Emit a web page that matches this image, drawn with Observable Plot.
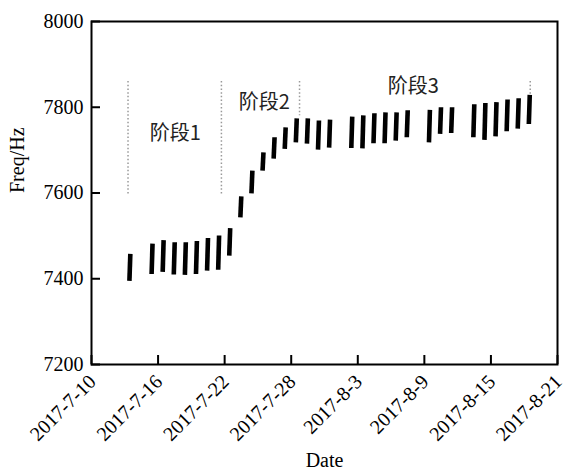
<!DOCTYPE html>
<html>
<head>
<meta charset="utf-8">
<script src="https://cdn.jsdelivr.net/npm/d3@7"></script>
<script src="https://cdn.jsdelivr.net/npm/@observablehq/plot@0.6"></script>
<style>
  html, body { margin: 0; padding: 0; background: #fff; }
  #chart svg { display: block; }
</style>
</head>
<body>
<div id="chart"></div>
<script>
// Daily measurement bursts: date, lowest and highest frequency (Hz)
const days  = ["2017-07-13","2017-07-15","2017-07-16","2017-07-17","2017-07-18","2017-07-19","2017-07-20","2017-07-21",
               "2017-07-22","2017-07-23","2017-07-24","2017-07-25","2017-07-26","2017-07-27","2017-07-28","2017-07-29",
               "2017-07-30","2017-07-31","2017-08-02","2017-08-03","2017-08-04","2017-08-05","2017-08-06","2017-08-07",
               "2017-08-09","2017-08-10","2017-08-11","2017-08-13","2017-08-14","2017-08-15","2017-08-16","2017-08-17","2017-08-18"];
const lows  = [7395,7411,7416,7410,7409,7411,7419,7421,
               7454,7543,7599,7652,7680,7703,7718,7715,
               7701,7706,7705,7704,7716,7716,7722,7730,
               7718,7738,7740,7730,7724,7732,7744,7750,7761];
const highs = [7458,7482,7490,7485,7485,7488,7495,7501,
               7518,7592,7652,7695,7730,7753,7774,7774,
               7769,7771,7778,7781,7786,7788,7788,7793,
               7794,7800,7800,7807,7810,7812,7818,7821,7829];

// Stage dividers (dotted lines)
const dividerTimes = ["2017-07-13T07:00","2017-07-21T17:00","2017-07-28T18:00","2017-08-18T13:00"];
const dividerTop   = [7860,7860,7860,7860];
const dividerBot   = [7594,7596,7780,7820];

// Stage labels
const stageText  = ["阶段1","阶段2","阶段3"];
const stageTimes = ["2017-07-17T13:00","2017-07-25T14:00","2017-08-08T00:00"];
const stageFreq  = [7739,7811,7848];

// Axes
const xTickLabels = ["2017-07-10","2017-07-16","2017-07-22","2017-07-28","2017-08-03","2017-08-09","2017-08-15","2017-08-21"];
const yTicks = [7200,7400,7600,7800,8000];

const W = 568, H = 473;
const mL = 91, mR = 11, mT = 21, mB = 109;
const plotW = W - mL - mR, plotH = H - mT - mB;

const pDay = d3.utcParse("%Y-%m-%d");
const pTime = d3.utcParse("%Y-%m-%dT%H:%M");

const bars = days.map((d, i) => ({
  t0: d3.utcHour.offset(pDay(d), 10),
  t1: d3.utcHour.offset(pDay(d), 12),
  lo: lows[i],
  hi: highs[i]
}));
const dividers = dividerTimes.map((t, i) => ({x: pTime(t), y1: dividerTop[i], y2: dividerBot[i]}));
const stages = stageText.map((s, i) => ({x: pTime(stageTimes[i]), y: stageFreq[i], text: s}));
const xTicks = xTickLabels.map(pDay);
const xMin = xTicks[0], xMax = xTicks[xTicks.length - 1];
const yMin = yTicks[0], yMax = yTicks[yTicks.length - 1];
const fmt = d => `${d.getUTCFullYear()}-${d.getUTCMonth() + 1}-${d.getUTCDate()}`;

const serif = "'Liberation Serif', 'Times New Roman', serif";

const chart = Plot.plot({
  width: W,
  height: H,
  marginLeft: mL,
  marginRight: mR,
  marginTop: mT,
  marginBottom: mB,
  style: {fontSize: "20px", color: "black", background: "white", fontFamily: serif},
  x: {type: "utc", domain: [xMin, xMax], axis: null},
  y: {domain: [yMin, yMax], axis: null},
  marks: [
    Plot.ruleX(dividers, {x: "x", y1: "y1", y2: "y2", stroke: "#999", strokeWidth: 1.5, strokeDasharray: "1.5 2.2"}),
    Plot.link(bars, {x1: "t0", y1: "lo", x2: "t1", y2: "hi", stroke: "black", strokeWidth: 4.6}),
    Plot.text(stages, {x: "x", y: "y", text: "text", fontSize: 20, fill: "#222", fontFamily: "Noto Sans CJK SC"}),
    Plot.tickY(yTicks, {y: d => d, insetRight: plotW - 9, stroke: "black", strokeWidth: 2}),
    Plot.tickX(xTicks, {x: d => d, insetTop: plotH - 9, stroke: "black", strokeWidth: 2}),
    Plot.text(yTicks, {x: () => xMin, y: d => d, text: d => String(d), textAnchor: "end", dx: -8, fontSize: 20, fontFamily: serif, fill: "black"}),
    Plot.text(xTicks, {x: d => d, y: () => yMin, text: fmt, rotate: -45, textAnchor: "end", dx: 1, dy: 14, fontSize: 20, fontFamily: serif, fill: "black"}),
    Plot.text(["Freq/Hz"], {frameAnchor: "left", dx: -74, rotate: -90, fontSize: 20, fontFamily: serif, fill: "black"}),
    Plot.text(["Date"], {frameAnchor: "bottom", dy: 102, fontSize: 20, fontFamily: serif, fill: "black"}),
    Plot.frame({stroke: "black", strokeWidth: 2})
  ]
});
document.getElementById("chart").appendChild(chart);
</script>
</body>
</html>
